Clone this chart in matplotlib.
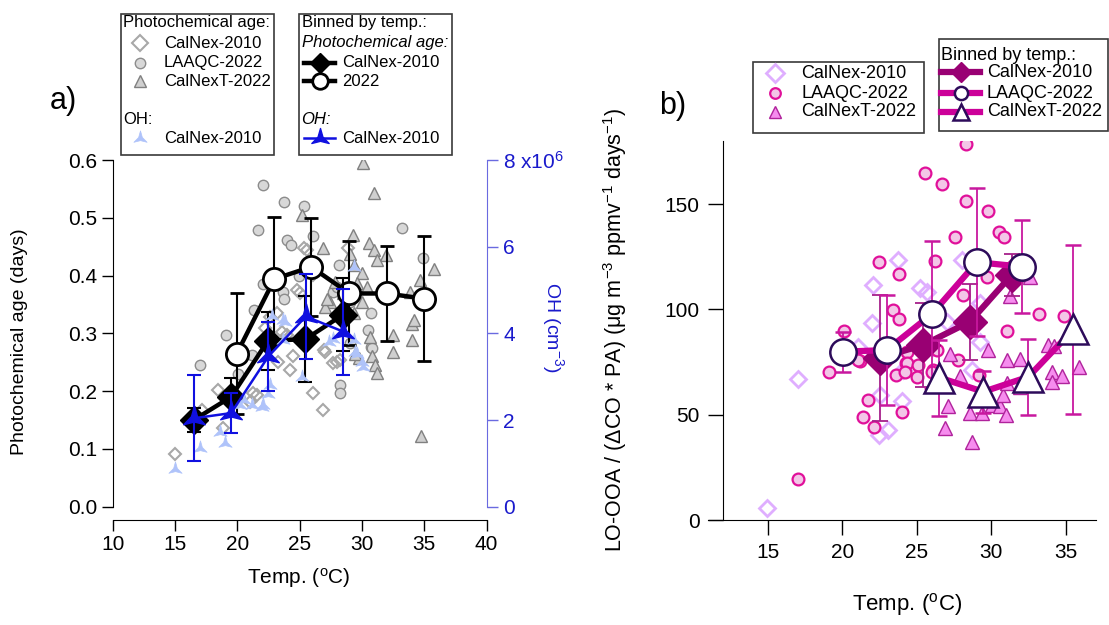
import numpy as np
import matplotlib.pyplot as plt
from matplotlib.lines import Line2D
from matplotlib.patches import Rectangle
from matplotlib.path import Path
from matplotlib.ticker import FuncFormatter

plt.rcParams['font.family'] = 'Liberation Sans'
plt.rcParams['mathtext.fontset'] = 'custom'
plt.rcParams['mathtext.rm'] = 'Liberation Sans'
plt.rcParams['mathtext.it'] = 'Liberation Sans:italic'
plt.rcParams['mathtext.default'] = 'regular'

# ---------------- panel a: photochemical age and OH vs temperature ----------------
calnex_age_t = [15.0, 17.15, 18.48, 18.88, 21.03, 21.57, 21.3, 24.24, 23.3, 26.11, 26.87, 27.05,
                27.99, 22.63, 22.23, 23.97, 24.78, 25.37, 25.05, 26.1, 23.17, 23.6, 24.5, 28.26,
                25.58, 26.92, 27.7, 28.92]
calnex_age = [0.092, 0.167, 0.202, 0.136, 0.182, 0.193, 0.196, 0.236, 0.251, 0.196, 0.168, 0.268,
              0.251, 0.329, 0.309, 0.297, 0.375, 0.447, 0.369, 0.401, 0.335, 0.303, 0.26, 0.254,
              0.444, 0.271, 0.248, 0.447]

laaqc_age_t = [22.1, 23.76, 25.37, 21.7, 23.97, 24.3, 26.06, 22.05, 23.65, 23.76, 21.35, 19.1,
               17.0, 20.04, 21.16, 24.99, 33.2, 34.87, 28.2, 27.7, 30.72, 30.45, 30.72, 28.26,
               28.26, 29.06, 27.98, 29.06, 30.8]
laaqc_age = [0.557, 0.527, 0.520, 0.479, 0.461, 0.453, 0.468, 0.385, 0.372, 0.359, 0.340, 0.297,
             0.245, 0.230, 0.262, 0.399, 0.483, 0.430, 0.418, 0.372, 0.335, 0.306, 0.277, 0.211,
             0.197, 0.283, 0.380, 0.355, 0.274]

calnext_age_t = [30.08, 30.99, 25.18, 26.87, 29.28, 30.53, 30.99, 31.95, 31.2, 29.06, 29.33, 30.0,
                 30.4, 29.6, 30.0, 27.45, 27.05, 29.33, 30.67, 30.8, 31.07, 31.2, 32.49, 32.49,
                 34.02, 34.15, 34.02, 33.88, 34.68, 35.81, 34.74, 28.52, 28.52, 27.86, 27.19,
                 29.73, 29.46]
calnext_age = [0.594, 0.543, 0.505, 0.447, 0.470, 0.456, 0.444, 0.435, 0.427, 0.438, 0.418, 0.404,
               0.381, 0.387, 0.355, 0.355, 0.346, 0.335, 0.294, 0.260, 0.245, 0.231, 0.297, 0.268,
               0.317, 0.323, 0.288, 0.372, 0.392, 0.411, 0.122, 0.352, 0.369, 0.389, 0.360,
               0.257, 0.265]

oh_t = [15.0, 17.0, 18.62, 19.02, 20.2, 20.5, 21.16, 21.97, 22.1, 22.5, 22.63, 22.77, 23.7, 23.84,
        23.7, 25.18, 27.32, 27.72, 29.46, 29.6, 30.0, 29.33, 29.33, 30.1]
oh = [0.88e6, 1.35e6, 1.73e6, 1.47e6, 2.35e6, 2.47e6, 2.35e6, 2.31e6, 2.35e6, 2.61e6, 2.80e6,
      4.39e6, 4.31e6, 4.27e6, 3.84e6, 3.0e6, 3.8e6, 3.87e6, 3.57e6, 3.53e6, 3.35e6, 5.53e6,
      3.84e6, 3.23e6]

bin10_t = [16.5, 19.5, 22.45, 25.47, 28.47]
bin10_age = [0.150, 0.190, 0.287, 0.290, 0.332]
bin10_err = [0.02, 0.033, 0.05, 0.074, 0.063]

bin22_t = [19.96, 22.98, 25.93, 29.0, 32.0, 35.0]
bin22_age = [0.265, 0.394, 0.415, 0.369, 0.369, 0.36]
bin22_err = [0.104, 0.108, 0.085, 0.09, 0.083, 0.108]

bin_oh_t = [16.5, 19.5, 22.5, 25.5, 28.5]
bin_oh = [2.04e6, 2.16e6, 3.47e6, 4.39e6, 4.04e6]
bin_oh_err = [0.99e6, 0.47e6, 0.79e6, 0.99e6, 0.99e6]

# ---------------- panel b: normalised LO-OOA vs temperature ----------------
calnex_lo_t = [23.77, 22.05, 21.98, 17.05, 14.97, 24.0, 22.54, 22.49, 23.09, 21.08, 25.22, 25.67,
               28.02, 27.01, 29.25, 29.25, 24.1, 26.1, 28.69]
calnex_lo = [123.5, 111.6, 93.4, 66.8, 5.6, 56.6, 59.4, 40.4, 42.7, 82.3, 110.0, 108.4, 123.5,
             94.2, 102.9, 84.7, 71.2, 82.3, 71.2]

laaqc_lo_t = [22.47, 23.81, 23.43, 23.83, 20.12, 19.13, 21.2, 23.61, 24.28, 21.75, 21.42, 22.13,
              23.99, 17.05, 28.29, 25.56, 26.68, 28.29, 29.77, 30.52, 30.86, 27.57, 26.23, 29.74,
              28.13, 33.23, 34.89, 31.04, 27.79, 24.33, 24.33, 25.1, 25.0, 24.2, 26.11, 29.2,
              21.08, 26.0, 26.34]
laaqc_lo = [122.4, 116.8, 99.7, 95.3, 89.7, 70.1, 75.5, 68.9, 74.4, 57.0, 48.8, 44.3, 51.1, 19.5,
            178.5, 164.6, 159.5, 151.6, 146.9, 136.9, 134.5, 134.2, 123.1, 115.5, 106.8, 97.8,
            96.9, 89.9, 76.0, 79.9, 74.4, 73.6, 68.0, 70.4, 71.2, 68.9, 76.0, 70.4, 80.7]

calnext_lo_t = [31.26, 32.6, 29.77, 27.24, 31.04, 31.89, 27.9, 27.12, 26.9, 28.58, 29.36, 30.03,
                30.59, 30.99, 28.69, 30.81, 31.04, 31.93, 33.83, 34.17, 34.06, 34.73, 34.06, 35.85]
calnext_lo = [106.5, 115.5, 80.7, 78.8, 76.0, 76.3, 68.4, 54.1, 43.5, 50.9, 50.9, 54.6, 54.1,
              49.9, 36.9, 59.4, 64.9, 63.3, 83.1, 82.6, 70.4, 68.5, 65.4, 72.5]

bin_lo10_t = [22.54, 25.44, 28.58, 31.38]
bin_lo10 = [77.0, 83.1, 94.2, 116.5]
bin_lo10_err = [30, 20, 18, 10]

bin_lo_aq_t = [20.03, 22.99, 26.0, 29.03, 32.05]
bin_lo_aq = [79.9, 80.7, 97.7, 122.4, 120.3]
bin_lo_aq_err = [9.5, 26, 35, 35, 22]

bin_lo_nt_t = [26.52, 29.47, 32.49, 35.51]
bin_lo_nt = [67.6, 60.9, 68.0, 90.5]
bin_lo_nt_err = [18, 10, 18, 40]


def star3(r_in=0.28):
    pts = []
    for k in range(3):
        a_out = np.deg2rad(90 + 120 * k)
        a_in = np.deg2rad(150 + 120 * k)
        pts.append((np.cos(a_out), np.sin(a_out)))
        pts.append((r_in * np.cos(a_in), r_in * np.sin(a_in)))
    pts.append(pts[0])
    return Path(pts, [Path.MOVETO] + [Path.LINETO] * 5 + [Path.CLOSEPOLY])


STAR = star3()
BLUE = '#1010E0'
OH_LIGHT = '#AFC3FA'
MAG_DARK = '#990073'
MAG = '#CC0099'
INDIGO = '#2D0B5A'

# marker styles shared between plots and legends
st_dia_grey = dict(marker='D', ms=6.5, mfc='none', mec='#A8A8A8', mew=1.5)
st_cir_grey = dict(marker='o', ms=7.5, mfc='#D8D8D8', mec='#8C8C8C', mew=1.0)
st_tri_grey = dict(marker='^', ms=9, mfc='#CFCFCF', mec='#808080', mew=1.0)
st_oh = dict(marker=STAR, ms=11, mfc=OH_LIGHT, mec=OH_LIGHT, mew=0.5)
st_bin10 = dict(marker='D', ms=14, mfc='k', mec='k', color='k', lw=3.2)
st_bin22 = dict(marker='o', ms=16, mfc='white', mec='k', mew=2, color='k', lw=3.2)
st_binoh = dict(marker=STAR, ms=18, mfc=BLUE, mec=BLUE, color=BLUE, lw=1.8)

st_dia_v = dict(marker='D', ms=8, mfc='none', mec='#DFAEFF', mew=2)
st_cir_p = dict(marker='o', ms=8.5, mfc='#F3C6E7', mec='#E0109A', mew=1.6)
st_tri_p = dict(marker='^', ms=10, mfc='#F68CEE', mec='#B0239C', mew=1.0)
st_blo10 = dict(marker='D', ms=17, mfc=MAG_DARK, mec=MAG_DARK, color=MAG_DARK, lw=4.5)
st_bloaq = dict(marker='o', ms=19, mfc='white', mec=INDIGO, mew=1.8, color=MAG, lw=4.5)
st_blont = dict(marker='^', ms=22, mfc='white', mec=INDIGO, mew=1.8, color=MAG, lw=4.5)

W, H = 1109, 625
fig = plt.figure(figsize=(W / 100, H / 100), dpi=100)


def fx(px):
    return px / W


def fy(py):
    return 1 - py / H


# ---------------- panel a ----------------
ax = fig.add_axes([fx(112.7), fy(506.7), (486.5 - 112.7) / W, (506.7 - 160) / H])
ax.set_xlim(10, 40)
ax.set_ylim(0, 0.6)
ax.spines['top'].set_visible(False)
ax.spines['right'].set_visible(False)
ax.spines['bottom'].set_position(('outward', 9.6))
ax.set_xticks(range(10, 41, 5))
ax.set_yticks(np.arange(0, 0.61, 0.1))
ax.yaxis.set_major_formatter(FuncFormatter(lambda v, p: f'{v:.1f}'))
ax.tick_params(direction='out', length=8, width=1, labelsize=15, pad=3)

ax.plot(calnex_age_t, calnex_age, ls='none', zorder=2, **st_dia_grey)
ax.plot(laaqc_age_t, laaqc_age, ls='none', zorder=2, **st_cir_grey)
ax.plot(calnext_age_t, calnext_age, ls='none', zorder=2, **st_tri_grey)
ax.errorbar(bin22_t, bin22_age, yerr=bin22_err, ecolor='k', elinewidth=1.5, capsize=5,
            capthick=1.5, zorder=4, **st_bin22)
ax.errorbar(bin10_t, bin10_age, yerr=bin10_err, ecolor='k', elinewidth=1.5, capsize=5,
            capthick=1.5, zorder=5, **st_bin10)

ax2 = ax.twinx()
ax2.set_ylim(0, 8e6)
for s in ('top', 'left', 'bottom'):
    ax2.spines[s].set_visible(False)
ax2.spines['right'].set_color('#6A6AE0')
ax2.set_yticks([0, 2e6, 4e6, 6e6, 8e6])
ax2.yaxis.set_major_formatter(FuncFormatter(
    lambda v, p: '8 x10$^{6}$' if v >= 8e6 else f'{v / 1e6:.0f}'))
ax2.tick_params(direction='out', length=8, width=1, labelsize=15, pad=4,
                color='#6A6AE0', labelcolor='#1A1ACC')
ax2.plot(oh_t, oh, ls='none', zorder=2, **st_oh)
ax2.errorbar(bin_oh_t, bin_oh, yerr=bin_oh_err, ecolor=BLUE, elinewidth=1.5, capsize=5,
             capthick=1.5, zorder=5, **st_binoh)

fig.text(fx(20), fy(342), 'Photochemical age (days)', rotation=90, ha='center', va='center',
         fontsize=14)
fig.text(fx(299), fy(578), 'Temp. ($^{o}$C)', ha='center', va='center', fontsize=15)
fig.text(fx(553), fy(327), 'OH (cm$^{-3}$)', rotation=270, ha='center', va='center',
         fontsize=14, color='#1A1ACC')
fig.text(fx(63), fy(101), 'a)', ha='center', va='center', fontsize=22)

# ---------------- panel b ----------------
bx = fig.add_axes([fx(708), fy(520), (1095.7 - 708) / W, (520 - 140.9) / H])
bx.set_xlim(11, 37)
bx.set_ylim(0, 180)
bx.spines['top'].set_visible(False)
bx.spines['right'].set_visible(False)
bx.spines['left'].set_position(('data', 12))
bx.set_xticks(range(15, 36, 5))
bx.set_yticks([0, 50, 100, 150])
bx.tick_params(direction='out', length=10.8, width=1, labelsize=15, pad=6)

bx.plot(calnex_lo_t, calnex_lo, ls='none', zorder=2, **st_dia_v)
bx.plot(laaqc_lo_t, laaqc_lo, ls='none', zorder=2, **st_cir_p)
bx.plot(calnext_lo_t, calnext_lo, ls='none', zorder=2, **st_tri_p)
bx.errorbar(bin_lo10_t, bin_lo10, yerr=bin_lo10_err, ecolor='#A6208A', elinewidth=1.3,
            capsize=6, capthick=1.3, zorder=4, **st_blo10)
bx.errorbar(bin_lo_aq_t, bin_lo_aq, yerr=bin_lo_aq_err, ecolor='#C8189F', elinewidth=1.3,
            capsize=6, capthick=1.3, zorder=5, **st_bloaq)
bx.errorbar(bin_lo_nt_t, bin_lo_nt, yerr=bin_lo_nt_err, ecolor='#C8189F', elinewidth=1.3,
            capsize=6, capthick=1.3, zorder=5, **st_blont)

fig.text(fx(615), fy(330), 'LO-OOA / (ΔCO * PA) (μg m$^{-3}$ ppmv$^{-1}$ days$^{-1}$)',
         rotation=90, ha='center', va='center', fontsize=15.5)
fig.text(fx(907), fy(605), 'Temp. ($^{o}$C)', ha='center', va='center', fontsize=16)
fig.text(fx(673), fy(106), 'b)', ha='center', va='center', fontsize=22)


# ---------------- hand-built legend boxes ----------------
def box(x0, y0, x1, y1):
    fig.add_artist(Rectangle((fx(x0), fy(y1)), fx(x1) - fx(x0), fy(y0) - fy(y1),
                             transform=fig.transFigure, fill=False, ec='#3A3A3A', lw=1.2))


def label(x, y, s, size, **kw):
    fig.text(fx(x), fy(y), s, fontsize=size, ha='left', va='center', **kw)


def sym(x, y, style, ms_scale=1.0):
    kw = {k: v for k, v in style.items() if k not in ('color', 'lw')}
    kw['ms'] = style['ms'] * ms_scale
    fig.add_artist(Line2D([fx(x)], [fy(y)], transform=fig.transFigure, ls='none', **kw))


def seg(x0, x1, y, style, ms_scale=1.0):
    fig.add_artist(Line2D([fx(x0), fx(x1)], [fy(y)] * 2, transform=fig.transFigure,
                          color=style['color'], lw=style['lw']))
    sym((x0 + x1) / 2, y, style, ms_scale)


box(120.7, 14, 274, 155)
label(123, 23, 'Photochemical age:', 12)
sym(140, 43.3, st_dia_grey, 1.3)
label(164, 43.3, 'CalNex-2010', 12)
sym(140, 62.7, st_cir_grey)
label(164, 62.7, 'LAAQC-2022', 12)
sym(140, 81, st_tri_grey)
label(164, 81, 'CalNexT-2022', 12)
label(123, 119, 'OH:', 12)
sym(140, 138.3, st_oh)
label(164, 138.3, 'CalNex-2010', 12)

box(299, 14, 452.3, 155)
label(301.5, 23, 'Binned by temp.:', 12)
label(301.5, 43, 'Photochemical age:', 12, style='italic')
seg(304, 335, 62.7, st_bin10, 0.75)
label(342, 62.7, 'CalNex-2010', 12)
seg(304, 335, 81, st_bin22, 0.7)
label(342, 81, '2022', 12)
label(301.5, 119, 'OH:', 12, style='italic')
seg(304, 335, 138.3, st_binoh, 0.8)
label(342, 138.3, 'CalNex-2010', 12)

box(753.3, 62.3, 924, 132.7)
sym(775, 73.3, st_dia_v, 1.1)
label(801.5, 73.3, 'CalNex-2010', 13)
sym(775, 93.3, st_cir_p, 0.9)
label(801.5, 93.3, 'LAAQC-2022', 13)
sym(775, 111.7, st_tri_p, 0.9)
label(801.5, 111.7, 'CalNexT-2022', 13)

box(939, 39, 1107.5, 131)
label(941.5, 55, 'Binned by temp.:', 13)
seg(941, 980, 72.3, st_blo10, 0.6)
label(987, 72.3, 'CalNex-2010', 13)
seg(941, 980, 93.3, st_bloaq, 0.5)
label(987, 93.3, 'LAAQC-2022', 13)
seg(941, 980, 111.7, st_blont, 0.5)
label(987, 111.7, 'CalNexT-2022', 13)

fig.savefig('out.png', dpi=100)
